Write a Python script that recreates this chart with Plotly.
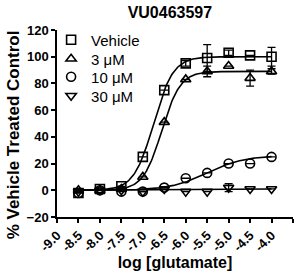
import numpy as np
import plotly.graph_objects as go

log_glu = [-8.5, -8.0, -7.5, -7.0, -6.5, -6.0, -5.5, -5.0, -4.5, -4.0]

vehicle = [-2, 1, 3, 25, 75, 95, 99, 103, 101, 100]
vehicle_err = [0, 0, 0, 0, 0, 2, 10, 2, 0, 7]
c3 = [0, 0, 1, 10, 51, 83, 89, 93, 84, 89]
c3_err = [0, 0, 0, 0, 0, 0, 4, 0, 6, 2]
c10 = [-2, 0, -1, -1, 2, 9, 13, 20, 20, 25]
c10_err = [0, 0, 0, 0, 0, 0, 0, 0, 0, 0]
c30 = [-1, 0, 0, -1, 1, -1, -1, 2, 1, 1]
c30_err = [0, 0, 0, 0, 0, 0, 0, 3, 0, 0]

names = ["Vehicle", "3 μM", "10 μM", "30 μM"]
symbols = ["square-open", "triangle-up-open", "circle-open", "triangle-down-open"]
series = [vehicle, c3, c10, c30]
errors = [vehicle_err, c3_err, c10_err, c30_err]

# Hill fit parameters: bottom, top, logEC50, hill slope
fit_bottom = [0, 0, 0, 0]
fit_top = [100, 89, 26, 1]
fit_logec50 = [-6.75, -6.56, -5.5, -6.0]
fit_hill = [1.9, 2.0, 1.0, 1.0]

# legend row positions (paper y)
legend_y = [0.9465, 0.845, 0.749, 0.647]

fig = go.Figure()
xs = np.linspace(-8.5, -4.0, 200)
for i in range(4):
    ys = fit_bottom[i] + (fit_top[i] - fit_bottom[i]) / (1 + 10 ** ((fit_logec50[i] - xs) * fit_hill[i]))
    fig.add_trace(go.Scatter(x=xs, y=ys, mode="lines", line=dict(color="black", width=1.6),
                             showlegend=False, hoverinfo="skip"))
font_family = "Liberation Sans, Arial, sans-serif"
legend_layout = {}
for i in range(4):
    lname = "legend" if i == 0 else f"legend{i + 1}"
    fig.add_trace(go.Scatter(
        x=log_glu, y=series[i], mode="markers", name=names[i], legend=lname,
        marker=dict(symbol=symbols[i], size=9, color="black", line=dict(width=1.6, color="black")),
        error_y=dict(type="data", array=errors[i], visible=True, color="black", thickness=1.3, width=4),
    ))
    legend_layout[lname] = dict(x=-0.025, y=legend_y[i], xanchor="left", yanchor="middle",
                                bgcolor="rgba(0,0,0,0)", font=dict(size=15, family=font_family),
                                itemwidth=30)

fig.update_layout(
    width=296, height=277,
    margin=dict(l=57, r=3, t=30, b=60),
    paper_bgcolor="white", plot_bgcolor="white",
    font=dict(family=font_family, color="black", size=12),
    title=dict(text="<b>VU0463597</b>", x=0.574, xanchor="center", y=0.955, yanchor="middle",
               font=dict(size=16, family=font_family, color="black")),
    showlegend=True,
    xaxis=dict(range=[-9.0, -3.5], tickmode="array",
               tickvals=[-9.0, -8.5, -8.0, -7.5, -7.0, -6.5, -6.0, -5.5, -5.0, -4.5, -4.0, -3.5],
               ticktext=["-9.0", "-8.5", "-8.0", "-7.5", "-7.0", "-6.5", "-6.0", "-5.5", "-5.0", "-4.5", "-4.0", "-3.5"],
               tickangle=-45, showline=True, linecolor="black", linewidth=1.5,
               ticks="outside", ticklen=4, tickwidth=1.5, tickcolor="black",
               showgrid=False, zeroline=False,
               tickfont=dict(size=13, family=font_family, weight="bold"),
               title=dict(text="<b>log [glutamate]</b>", font=dict(size=16, family=font_family), standoff=1)),
    yaxis=dict(range=[-20, 120], tickvals=[-20, 0, 20, 40, 60, 80, 100, 120],
               showline=True, linecolor="black", linewidth=1.5,
               ticks="outside", ticklen=4, tickwidth=1.5, tickcolor="black",
               showgrid=False, zeroline=False,
               tickfont=dict(size=13, family=font_family, weight="bold")),
    annotations=[dict(text="<b>% Vehicle Treated Control</b>", textangle=-90,
                      xref="paper", yref="paper", x=-0.185, y=(217 - 135) / 187,
                      xanchor="center", yanchor="middle", showarrow=False,
                      font=dict(size=17, family=font_family, color="black"))],
    **legend_layout,
)
fig.write_html("out.html")
